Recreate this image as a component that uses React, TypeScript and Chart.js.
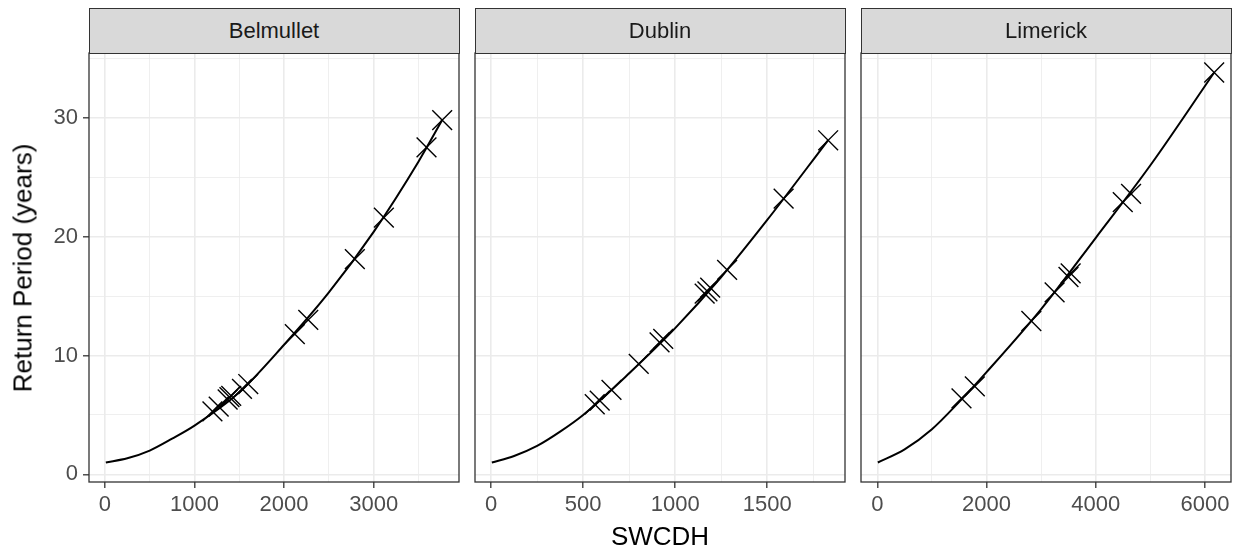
import React, { useEffect, useRef } from "react";
import { Chart, registerables } from "chart.js";

Chart.register(...registerables);

// ---------- data ----------
const STATIONS = ["Belmullet", "Dublin", "Limerick"];
const X_TITLE = "SWCDH";
const Y_TITLE = "Return Period (years)";

const belmulletCurveX = [10, 250, 500, 750, 1000, 1500, 2000, 2500, 3000, 3500, 3765];
const belmulletCurveY = [1.0, 1.35, 2.0, 3.0, 4.1, 6.9, 10.9, 15.3, 20.4, 26.3, 29.8];
const belmulletPointX = [1200, 1270, 1370, 1390, 1410, 1530, 1600, 2120, 2270, 2790, 3114, 3590, 3765];
const belmulletPointY = [5.3, 5.7, 6.3, 6.5, 6.6, 7.2, 7.6, 11.8, 13.0, 18.1, 21.6, 27.5, 29.8];

const dublinCurveX = [4, 125, 250, 375, 500, 750, 1000, 1250, 1500, 1830];
const dublinCurveY = [1.0, 1.55, 2.4, 3.6, 5.0, 8.5, 12.3, 16.6, 21.4, 28.1];
const dublinPointX = [563, 590, 654, 802, 915, 935, 1160, 1175, 1190, 1282, 1589, 1831];
const dublinPointY = [5.9, 6.2, 7.1, 9.3, 11.1, 11.4, 15.2, 15.4, 15.7, 17.2, 23.2, 28.1];

const limerickCurveX = [9, 500, 1000, 1500, 2000, 3000, 4000, 5000, 6168];
const limerickCurveY = [1.0, 2.1, 3.8, 6.1, 8.6, 13.9, 19.9, 26.0, 33.8];
const limerickPointX = [1541, 1785, 2820, 3246, 3500, 3540, 4494, 4646, 6168];
const limerickPointY = [6.4, 7.4, 12.9, 15.3, 16.6, 16.9, 22.9, 23.6, 33.8];

const belmulletTicks = [0, 1000, 2000, 3000];
const dublinTicks = [0, 500, 1000, 1500];
const limerickTicks = [0, 2000, 4000, 6000];
const yTicks = [0, 10, 20, 30];

const curvesX = [belmulletCurveX, dublinCurveX, limerickCurveX];
const curvesY = [belmulletCurveY, dublinCurveY, limerickCurveY];
const pointsX = [belmulletPointX, dublinPointX, limerickPointX];
const pointsY = [belmulletPointY, dublinPointY, limerickPointY];
const xTicksAll = [belmulletTicks, dublinTicks, limerickTicks];

// ---------- layout ----------
const PANEL_TOP = 53;
const PANEL_BOTTOM = 482;
const STRIP_TOP = 8;
const PANELS = [
  { left: 89, right: 459 },
  { left: 475, right: 845 },
  { left: 861, right: 1231 },
];
const FONT = "'Liberation Sans', Arial, Helvetica, sans-serif";
const TICK_SIZE = 22;
const STRIP_SIZE = 22;
const TITLE_SIZE = 26;

function expand(lo: number, hi: number): [number, number] {
  const r = hi - lo;
  return [lo - 0.05 * r, hi + 0.05 * r];
}

function buildTicks(min: number, max: number, majors: number[]) {
  const half = (majors[1] - majors[0]) / 2;
  const out: { value: number }[] = [];
  for (let k = Math.ceil(min / half); k * half <= max; k++) out.push({ value: k * half });
  return out;
}

const allY = [...curvesY.flat(), ...pointsY.flat()];
const Y_RANGE = expand(Math.min(...allY), Math.max(...allY));

const framePlugin = {
  id: "panelFrame",
  afterDraw(chart: any) {
    const { ctx, chartArea } = chart;
    ctx.save();
    ctx.strokeStyle = "#333333";
    ctx.lineWidth = 1.3;
    ctx.strokeRect(chartArea.left, chartArea.top, chartArea.right - chartArea.left, chartArea.bottom - chartArea.top);
    ctx.restore();
  },
};

function Panel({ i }: { i: number }) {
  const ref = useRef<HTMLCanvasElement>(null);
  const p = PANELS[i];
  const isFirst = i === 0;
  const yW = isFirst ? p.left : 0;
  const padT = 24;
  const padR = 34;
  const padL = isFirst ? 0 : 30;
  const xH = 50;
  const pw = p.right - p.left;
  const ph = PANEL_BOTTOM - PANEL_TOP;
  const cw = padL + yW + pw + padR;
  const ch = padT + ph + xH;

  useEffect(() => {
    if (!ref.current) return;
    const cx = curvesX[i];
    const cy = curvesY[i];
    const px = pointsX[i];
    const py = pointsY[i];
    const majors = xTicksAll[i];
    const allX = [...cx, ...px];
    const xr = expand(Math.min(...allX), Math.max(...allX));
    const curve = cx.map((x, k) => ({ x, y: cy[k] }));
    const pts = px.map((x, k) => ({ x, y: py[k] }));

    const chart = new Chart(ref.current, {
      type: "scatter",
      data: {
        datasets: [
          {
            data: curve,
            showLine: true,
            borderColor: "#000000",
            borderWidth: 2,
            pointRadius: 0,
            cubicInterpolationMode: "monotone",
            fill: false,
          } as any,
          {
            data: pts,
            showLine: false,
            pointStyle: "crossRot",
            pointRadius: 14,
            pointBorderWidth: 1.4,
            pointBorderColor: "#000000",
            pointBackgroundColor: "rgba(0,0,0,0)",
          } as any,
        ],
      },
      options: {
        animation: false,
        responsive: false,
        maintainAspectRatio: false,
        events: [],
        layout: { padding: { top: padT, right: padR, left: padL, bottom: 0 } },
        plugins: { legend: { display: false }, tooltip: { enabled: false } },
        scales: {
          x: {
            type: "linear",
            position: "bottom",
            min: xr[0],
            max: xr[1],
            afterBuildTicks: (s: any) => {
              s.ticks = buildTicks(xr[0], xr[1], majors);
            },
            afterFit: (s: any) => {
              s.height = xH;
            },
            ticks: {
              autoSkip: false,
              maxRotation: 0,
              minRotation: 0,
              padding: 4,
              color: "#4D4D4D",
              font: { family: FONT, size: TICK_SIZE },
              callback: (v: any) => (majors.includes(Number(v)) ? String(v) : ""),
            },
            grid: {
              color: "#EBEBEB",
              lineWidth: (c: any) => (majors.includes(c.tick?.value) ? 1.6 : 0.8),
              drawTicks: true,
              tickLength: 6,
              tickWidth: 1.3,
              tickColor: (c: any) => (majors.includes(c.tick?.value) ? "#333333" : "rgba(0,0,0,0)"),
            },
            border: { display: false },
          },
          y: {
            type: "linear",
            position: "left",
            min: Y_RANGE[0],
            max: Y_RANGE[1],
            afterBuildTicks: (s: any) => {
              s.ticks = buildTicks(Y_RANGE[0], Y_RANGE[1], yTicks);
            },
            afterFit: (s: any) => {
              s.width = yW;
            },
            ticks: {
              display: isFirst,
              autoSkip: false,
              padding: 5,
              color: "#4D4D4D",
              font: { family: FONT, size: TICK_SIZE },
              callback: (v: any) => (yTicks.includes(Number(v)) ? String(v) : ""),
            },
            grid: {
              color: "#EBEBEB",
              lineWidth: (c: any) => (yTicks.includes(c.tick?.value) ? 1.6 : 0.8),
              drawTicks: isFirst,
              tickLength: 6,
              tickWidth: 1.3,
              tickColor: (c: any) => (yTicks.includes(c.tick?.value) ? "#333333" : "rgba(0,0,0,0)"),
            },
            border: { display: false },
          },
        },
      } as any,
      plugins: [framePlugin],
    });
    return () => chart.destroy();
  }, [i]);

  return (
    <canvas
      ref={ref}
      width={cw}
      height={ch}
      style={{
        position: "absolute",
        left: p.left - yW - padL,
        top: PANEL_TOP - padT,
        width: cw,
        height: ch,
        display: "block",
      }}
    />
  );
}

export default function App() {
  return (
    <div
      style={{
        position: "absolute",
        left: 0,
        top: 0,
        width: 1240,
        height: 553,
        background: "#FFFFFF",
        overflow: "hidden",
        fontFamily: FONT,
      }}
    >
      {PANELS.map((_, i) => (
        <Panel key={"panel" + i} i={i} />
      ))}
      {PANELS.map((p, i) => (
        <div
          key={"strip" + i}
          style={{
            position: "absolute",
            left: p.left - 0.5,
            top: STRIP_TOP,
            width: p.right - p.left + 1,
            height: PANEL_TOP - STRIP_TOP + 0.5,
            boxSizing: "border-box",
            background: "#D9D9D9",
            border: "1.3px solid #333333",
            display: "flex",
            alignItems: "center",
            justifyContent: "center",
            fontSize: STRIP_SIZE,
            color: "#1A1A1A",
          }}
        >
          {STATIONS[i]}
        </div>
      ))}
      <div
        style={{
          position: "absolute",
          left: 23,
          top: (PANEL_TOP + PANEL_BOTTOM) / 2,
          transform: "translate(-50%, -50%) rotate(-90deg)",
          whiteSpace: "nowrap",
          fontSize: TITLE_SIZE,
          color: "#000000",
        }}
      >
        {Y_TITLE}
      </div>
      <div
        style={{
          position: "absolute",
          left: (PANELS[0].left + PANELS[2].right) / 2,
          top: 536,
          transform: "translate(-50%, -50%)",
          whiteSpace: "nowrap",
          fontSize: TITLE_SIZE,
          color: "#000000",
        }}
      >
        {X_TITLE}
      </div>
    </div>
  );
}
